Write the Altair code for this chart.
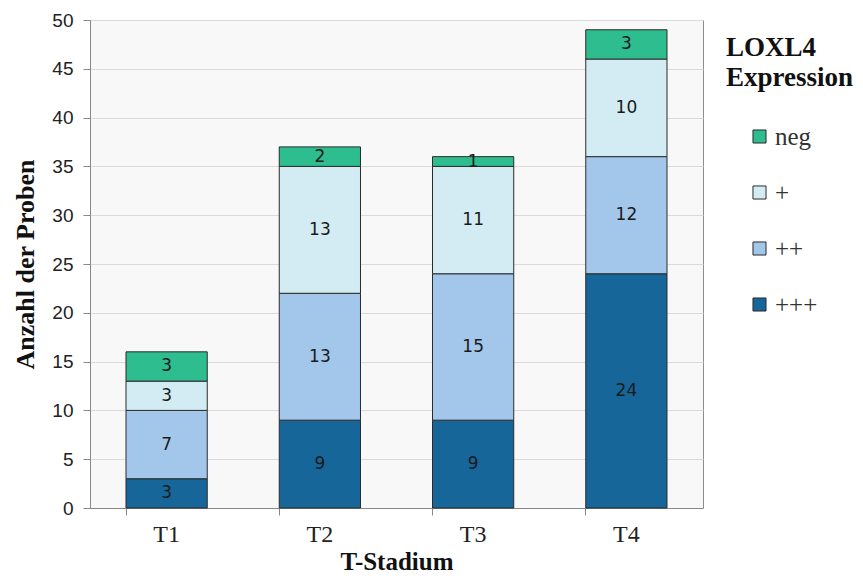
import altair as alt
import pandas as pd

stages = ["T1", "T2", "T3", "T4"]
levels = ["+++", "++", "+", "neg"]
legend_order = ["neg", "+", "++", "+++"]
colors = ["#2ebd8e", "#d3ecf3", "#a2c7ea", "#17669a"]
v_plus3 = [3, 9, 9, 24]
v_plus2 = [7, 13, 15, 12]
v_plus1 = [3, 13, 11, 10]
v_neg = [3, 2, 1, 3]

series = {"+++": v_plus3, "++": v_plus2, "+": v_plus1, "neg": v_neg}
rows = []
for rank, lev in enumerate(levels):
    for s, v in zip(stages, series[lev]):
        rows.append({"stage": s, "level": lev, "rank": rank, "count": v})
df = pd.DataFrame(rows)

serif = "Liberation Serif"

base = alt.Chart(df).transform_stack(
    stack="count", as_=["y0", "y1"], groupby=["stage"],
    sort=[alt.SortField("rank", order="ascending")]
).transform_calculate(mid="(datum.y0 + datum.y1) / 2")

xscale = alt.Scale(paddingInner=0.47, paddingOuter=0.235)
yscale = alt.Scale(domain=[0, 50])

bars = base.mark_bar(stroke="#2b2b2b", strokeWidth=1).encode(
    x=alt.X("stage:N", scale=xscale, sort=stages,
            axis=alt.Axis(title="T-Stadium", orient="bottom", labelAngle=0, ticks=False,
                          domain=False,
                          labelFont=serif, labelFontSize=24, labelColor="#222",
                          labelPadding=14, titleFont=serif, titleFontSize=25,
                          titleFontWeight="bold", titleColor="#111", titlePadding=3)),
    y=alt.Y("y0:Q", scale=yscale,
            axis=alt.Axis(title="Anzahl der Proben", values=list(range(0, 51, 5)),
                          tickSize=7, tickColor="#888", domainColor="#888",
                          labelFont="Liberation Sans", labelFontSize=19, labelColor="#222",
                          labelPadding=10, gridColor="#dadada",
                          titleFont=serif, titleFontSize=26, titleFontWeight="bold",
                          titleColor="#111", titlePadding=13)),
    y2="y1:Q",
    color=alt.Color("level:N", sort=legend_order,
                    scale=alt.Scale(domain=legend_order, range=colors),
                    legend=alt.Legend(title=["LOXL4", "Expression"], orient="none",
                                      legendX=636, legendY=15,
                                      titleFont=serif, titleFontSize=27, titleFontWeight="bold",
                                      titleColor="#111", titleLineHeight=30, titlePadding=32,
                                      labelFont=serif, labelFontSize=25, labelColor="#333",
                                      symbolType="square", symbolSize=170, symbolOffset=21,
                                      symbolStrokeColor="#2b2b2b", symbolStrokeWidth=1,
                                      rowPadding=30, labelOffset=3)),
)

ticks = base.mark_bar(opacity=0).encode(
    x=alt.X("stage:N", scale=xscale, sort=stages,
            axis=alt.Axis(title=None, orient="bottom", labels=False, ticks=True, tickSize=7,
                          tickColor="#888", domainColor="#888", bandPosition=0,
                          grid=False)),
)

labels = base.mark_text(font="DejaVu Sans", fontSize=17, color="#1a1a1a").encode(
    x=alt.X("stage:N", scale=xscale, sort=stages, axis=None),
    y=alt.Y("mid:Q", scale=yscale),
    text="count:Q",
)

chart = alt.layer(bars, labels, ticks).resolve_axis(x="independent").properties(
    width=613, height=488,
    autosize=alt.AutoSizeParams(type="none"),
    padding={"left": 82, "top": 12, "right": 152, "bottom": 69},
).configure_view(fill="#f8f8f8", stroke="#8c8c8c", strokeWidth=1)

chart.save("out.html", embed_options={"renderer": "svg", "actions": False})
